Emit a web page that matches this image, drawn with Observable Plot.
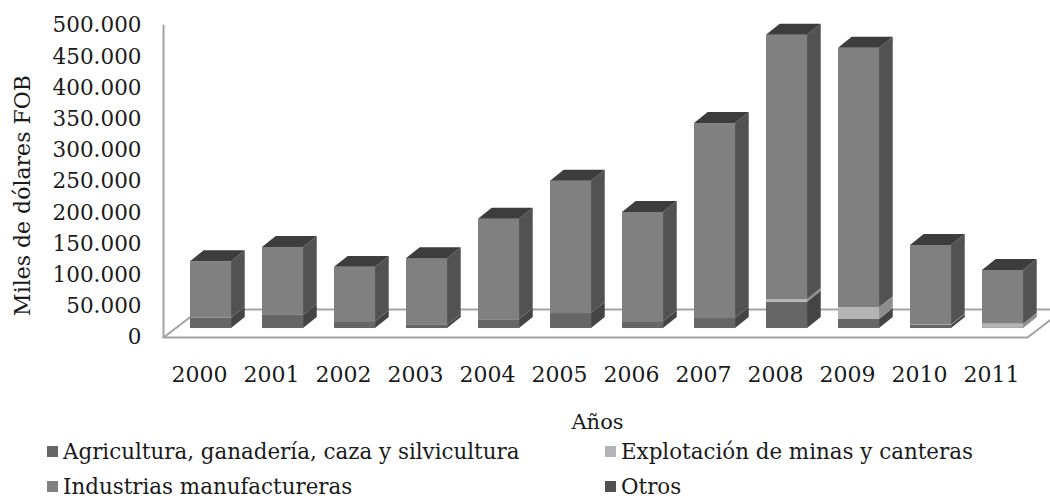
<!DOCTYPE html>
<html>
<head>
<meta charset="utf-8">
<script src="https://cdn.jsdelivr.net/npm/d3@7"></script>
<script src="https://cdn.jsdelivr.net/npm/@observablehq/plot@0.6"></script>
<style>
html,body{margin:0;padding:0;background:#fff;}
#chart{width:1050px;height:498px;overflow:hidden;font-family:"DejaVu Serif",serif;color:#1a1a1a;}
#chart svg{display:block;}
#legend{position:relative;height:60px;font-size:21.4px;}
.item{position:absolute;display:flex;align-items:center;white-space:nowrap;height:24px;}
.sw{width:11px;height:11px;margin-right:5px;display:inline-block;}
</style>
</head>
<body>
<div id="chart"></div>
<script>
const years = [2000,2001,2002,2003,2004,2005,2006,2007,2008,2009,2010,2011];
const agricultura = [16.5,21,11,5,14,24,11,16,42,14.5,5,1];
const minas = [0,0,0,0,0,0,0,0,4.5,19,0.5,6];
const industrias = [90.5,109,87,107,161,212,175,312.5,423.5,415.5,127.5,86];
const otros = [0,0,0,0,0,0,0,0,0,0,0,0];
const yTicks = [0,50,100,150,200,250,300,350,400,450,500];
const seriesNames = ["Agricultura, ganadería, caza y silvicultura","Explotación de minas y canteras","Industrias manufactureras","Otros"];

const allSeries = [agricultura, minas, industrias, otros];
const front = ["#666666","#b4b4b4","#808080","#505050"];
const side = ["#444444","#8c8c8c","#525252","#3a3a3a"];
const topFace = "#3d3d3d";
const lineGrey = "#a3a3a3";
const ink = "#1a1a1a";
const font = "DejaVu Serif";

// Depth of the fake 3D projection, in scale units
const halfW = 0.285, shiftX = 0.16, dX = 0.19, dV = 17.6, floorV = 14.4;
const backX = 0.51, backV = 44.9;

const fmt = d3.formatLocale({decimal:",",thousands:".",grouping:[3],currency:["",""]}).format(",");

const marks = [];
const wall = [{x:1999.5,y:0},{x:1999.5,y:500}];
const floor = [
  {x:1999.5+backX,y:backV},{x:1999.5,y:0},{x:2011.5,y:0},{x:2011.5+backX,y:backV},{x:1999.5+backX,y:backV}
];
marks.push(Plot.line(wall,{x:"x",y:"y",stroke:lineGrey,strokeWidth:2}));
marks.push(Plot.line(floor,{x:"x",y:"y",stroke:lineGrey,strokeWidth:2}));

const stackBase = years.map(()=>floorV);
allSeries.forEach((vals,si)=>{
  const segs = years.map((yr,i)=>{
    const v0 = stackBase[i], v1 = v0 + vals[i];
    stackBase[i] = v1;
    return {yr, i, v0, v1, xl: yr+shiftX-halfW, xr: yr+shiftX+halfW};
  }).filter(d=>d.v1>d.v0);
  marks.push(Plot.rect(segs,{x1:"xl",x2:"xr",y1:"v0",y2:"v1",fill:front[si]}));
  const sidePts = segs.flatMap(d=>[
    {g:d.yr,x:d.xr,y1:d.v0,y2:d.v1},
    {g:d.yr,x:d.xr+dX,y1:d.v0+dV,y2:d.v1+dV}
  ]);
  marks.push(Plot.areaY(sidePts,{x:"x",y1:"y1",y2:"y2",z:"g",fill:side[si]}));
});
const totals = stackBase.slice();
const topPts = years.flatMap((yr,i)=>[
  {g:yr,y:totals[i],x1:yr+shiftX-halfW,x2:yr+shiftX+halfW},
  {g:yr,y:totals[i]+dV,x1:yr+shiftX-halfW+dX,x2:yr+shiftX+halfW+dX}
]);
marks.push(Plot.areaX(topPts,{y:"y",x1:"x1",x2:"x2",z:"g",fill:topFace}));

marks.push(Plot.axisY({ticks:yTicks,tickSize:0,tickPadding:22,tickFormat:d=>fmt(d*1000),label:null,fontSize:21.5,fill:ink}));
marks.push(Plot.axisX({ticks:years,tickSize:0,tickPadding:29,tickFormat:d=>String(d),label:null,fontSize:22,fill:ink}));
marks.push(Plot.text(["Años"],{frameAnchor:"bottom",dx:2,dy:91,fontSize:21,fill:ink}));
marks.push(Plot.text(["Miles de dólares FOB"],{frameAnchor:"left",textAnchor:"middle",dx:-141,dy:14,rotate:-90,fontSize:22,fill:ink}));

const plot = Plot.plot({
  width:1050,height:438,
  marginLeft:163,marginRight:23,marginTop:25,marginBottom:101,
  x:{domain:[1999.5,2011.5],axis:null},
  y:{domain:[0,500],axis:null},
  style:{fontFamily:font,background:"#fff",overflow:"hidden"},
  marks
});
const chart = document.getElementById("chart");
chart.appendChild(plot);

const legend = document.createElement("div");
legend.id = "legend";
const pos = [[47,1],[605,1],[47,36],[605,36]];
seriesNames.forEach((n,i)=>{
  const it = document.createElement("div");
  it.className = "item";
  it.style.left = pos[i][0]+"px";
  it.style.top = pos[i][1]+"px";
  const s = document.createElement("span");
  s.className = "sw";
  s.style.background = front[i];
  it.appendChild(s);
  it.appendChild(document.createTextNode(n));
  legend.appendChild(it);
});
chart.appendChild(legend);
</script>
</body>
</html>
